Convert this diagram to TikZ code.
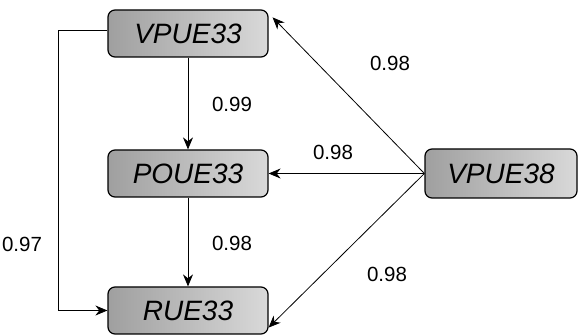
\documentclass[tikz,border=0pt]{standalone}
\usepackage{fontspec}
\setmainfont{Liberation Sans}
\usetikzlibrary{arrows.meta}
\begin{document}
\begin{tikzpicture}[x=1pt,y=-1pt,
  box/.style={draw=black, line width=1.2pt, rounded corners=7pt, left color=gray!75, right color=gray!30,
    minimum width=160pt, minimum height=47pt, inner sep=0pt, font=\fontsize{28}{30}\selectfont\itshape},
  lab/.style={font=\fontsize{20.5}{23}\selectfont, inner sep=0pt},
  conn/.style={draw=black, line width=0.8pt, -{Stealth[length=12pt,width=10pt]}}]
\useasboundingbox (0,0) rectangle (579,336);
\node[box] (v33) at (188,33.5) {VPUE33};
\node[box] (p33) at (188,173.5) {POUE33};
\node[box] (r33) at (188,310.5) {RUE33};
\node[box, minimum width=152pt, minimum height=49pt] (v38) at (501,173.5) {VPUE38};
\coordinate (hub) at (v38.west);
\draw[conn] (hub) -- ([xshift=4pt,yshift=-8pt]v33.north east);
\draw[conn] (hub) -- (p33.east);
\draw[conn] (hub) -- ([yshift=7pt]r33.south east);
\draw[conn] (v33.south) -- (p33.north);
\draw[conn] (p33.south) -- (r33.north);
\draw[conn] ([yshift=3pt]v33.west) -- ++(-49,0) |- (r33.west);
\node[lab] (l1) at (390,63) {0.98};
\node[lab] (l2) at (232,104) {0.99};
\node[lab] (l3) at (333,152) {0.98};
\node[lab] (l4) at (22,244) {0.97};
\node[lab] (l5) at (232,243) {0.98};
\node[lab] (l6) at (387,274) {0.98};
\end{tikzpicture}
\end{document}
